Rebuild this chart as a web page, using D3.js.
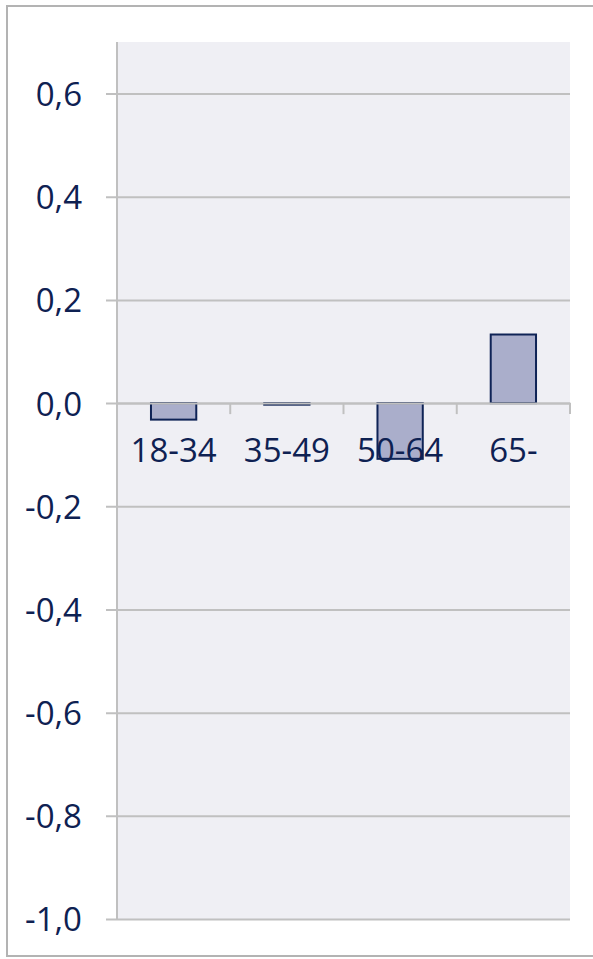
<!DOCTYPE html>
<html><head><meta charset="utf-8">
<script src="https://cdn.jsdelivr.net/npm/d3@7/dist/d3.min.js"></script>
<style>
html,body{margin:0;padding:0;background:#fff;}
svg{display:block;}
</style></head>
<body>
<script>
const categories = ["18-34", "35-49", "50-64", "65-"];
const values = [-0.032, -0.003, -0.108, 0.133];
const yTicks = [-1.0, -0.8, -0.6, -0.4, -0.2, 0.0, 0.2, 0.4, 0.6];

const W = 593, H = 959;
const pLeft = 117, pRight = 570, pTop = 42, pBottom = 919;
const textColor = "#0e2152";
const gridColor = "#c0c0c0";
const fontSize = "33px";

const svg = d3.select("body").append("svg").attr("width", W).attr("height", H);

// outer frame
svg.append("rect").attr("x", 7).attr("y", 6).attr("width", 600).attr("height", 950)
  .attr("fill", "#fff").attr("stroke", "#b3b3b3").attr("stroke-width", 2);

// plot background
svg.append("rect").attr("x", pLeft).attr("y", pTop).attr("width", pRight - pLeft).attr("height", pBottom - pTop)
  .attr("fill", "#efeff4");

const y = d3.scaleLinear().domain([-1, 0.7]).range([pBottom, pTop]);
const x = d3.scaleBand().domain(categories).range([pLeft, pRight]).paddingInner(0.6).paddingOuter(0.3);
const xb = d3.scaleBand().domain(categories).range([pLeft, pRight]);

// gridlines + y ticks via axis
const yAxis = d3.axisLeft(y).tickValues(yTicks).tickSize(pRight - pLeft + 11)
  .tickFormat(d => d3.format(".1f")(d).replace(".", ",").replace("−", "-"));
const gy = svg.append("g").attr("transform", `translate(${pRight},0)`).call(yAxis);
gy.select(".domain").remove();
gy.selectAll(".tick line").attr("stroke", gridColor).attr("stroke-width", 2);
gy.selectAll(".tick text").attr("x", -(pRight - pLeft) - 35).attr("dy", "0.36em")
  .attr("fill", textColor).style("font-family", "'Open Sans', sans-serif").style("font-size", fontSize)
  .attr("text-anchor", "end");

// y axis line
svg.append("line").attr("x1", pLeft).attr("x2", pLeft).attr("y1", pTop).attr("y2", pBottom)
  .attr("stroke", gridColor).attr("stroke-width", 2);

// bars
svg.append("g").selectAll("rect").data(values).join("rect")
  .attr("x", (d, i) => x(categories[i]))
  .attr("width", x.bandwidth())
  .attr("y", d => y(Math.max(0, d)))
  .attr("height", d => Math.max(1, Math.abs(y(d) - y(0))))
  .attr("fill", "#aaaecb").attr("stroke", "#0f2356").attr("stroke-width", 2);

// x axis at 0
const xAxis = d3.axisBottom(xb).tickSize(0).tickFormat(d => d);
const gx = svg.append("g").attr("transform", `translate(0,${y(0)})`).call(xAxis);
gx.select(".domain").attr("stroke", gridColor).attr("stroke-width", 2);
gx.selectAll(".tick text").attr("y", 59).attr("dy", 0)
  .attr("fill", textColor).style("font-family", "'Open Sans', sans-serif").style("font-size", fontSize);
// category boundary ticks
const bounds = categories.map(c => xb(c)).concat([pRight]).slice(1);
svg.append("g").selectAll("line").data(bounds).join("line")
  .attr("x1", d => d).attr("x2", d => d).attr("y1", y(0)).attr("y2", y(0) + 11)
  .attr("stroke", gridColor).attr("stroke-width", 2);
</script>
</body></html>
